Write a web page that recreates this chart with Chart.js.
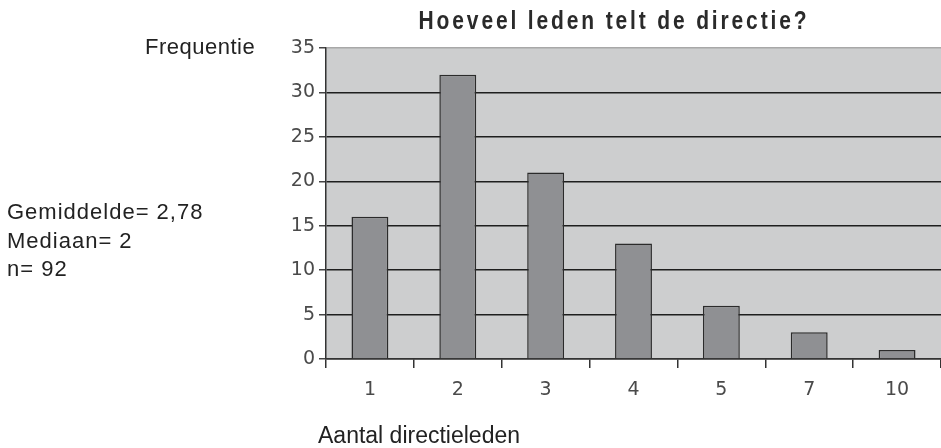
<!DOCTYPE html>
<html>
<head>
<meta charset="utf-8">
<script src="https://cdn.jsdelivr.net/npm/chart.js@4.4.1/dist/chart.umd.min.js"></script>
<style>
  html, body { margin: 0; padding: 0; background: #fff; }
  #wrap { width: 941px; height: 448px; position: relative; }
</style>
</head>
<body>
<div id="wrap"><canvas id="directie" width="941" height="448"></canvas></div>
<script>
const categories = ['1', '2', '3', '4', '5', '7', '10'];
const frequencies = [16, 32, 21, 13, 6, 3, 1];
const statLines = ['Gemiddelde= 2,78', 'Mediaan= 2', 'n= 92'];
const chartTitle = 'Hoeveel leden telt de directie?';
const yTitle = 'Frequentie';
const xTitle = 'Aantal directieleden';

const labelsPlugin = {
    id: 'extraText',
    afterDraw(chart) {
        let ctx = chart.ctx;
        ctx.save();
        ctx.fillStyle = '#222';
        ctx.textBaseline = 'middle';

        // title: condensed bold, spaced out like the original
        ctx.save();
        ctx.translate(614, 22);
        ctx.scale(0.84, 1);
        ctx.fillStyle = '#2a2a2a';
        ctx.font = 'bold 25px "Liberation Sans"';
        ctx.letterSpacing = '3.4px';
        ctx.textAlign = 'center';
        ctx.fillText(chartTitle, 0, 0);
        ctx.restore();

        ctx.font = '22px "Liberation Sans"';
        ctx.textAlign = 'left';
        ctx.letterSpacing = '0.5px';
        ctx.fillText(yTitle, 145, 48);

        ctx.letterSpacing = '1px';
        statLines.forEach((line, i) => {
            ctx.fillText(line, 7, 213 + i * 28.5);
        });

        ctx.letterSpacing = '0px';
        ctx.font = '23px "Liberation Sans"';
        ctx.fillText(xTitle, 318, 437);
        ctx.restore();
    }
};

let ctx = document.getElementById('directie').getContext('2d');
let chart = new Chart(ctx, {
    type: 'bar',
    data: {
        labels: categories,
        datasets: [{
            data: frequencies,
            backgroundColor: '#8f9093',
            borderColor: '#2b2b2b',
            borderWidth: 1.5,
            categoryPercentage: 1,
            barPercentage: 0.42
        }]
    },
    options: {
        responsive: false,
        animation: false,
        layout: { padding: { top: 48, left: 0, right: 0, bottom: 0 } },
        plugins: {
            legend: { display: false },
            tooltip: { enabled: false },
            title: { display: false }
        },
        scales: {
            y: {
                min: 0,
                max: 35,
                ticks: {
                    stepSize: 5,
                    padding: 4,
                    color: '#4a4a4a',
                    font: { family: '"DejaVu Sans"', size: 19 }
                },
                grid: {
                    color: c => c.tick && c.tick.value === 35 ? '#a8a8a8' : '#1e1e1e',
                    lineWidth: 1.5,
                    tickLength: 7,
                    tickColor: '#444',
                    drawTicks: true
                },
                border: { display: true, color: '#333', width: 1.5 },
                afterFit: scale => { scale.width = 326; }
            },
            x: {
                offset: true,
                ticks: {
                    padding: 11,
                    color: '#4a4a4a',
                    font: { family: '"DejaVu Sans"', size: 19 }
                },
                grid: {
                    offset: true,
                    drawOnChartArea: false,
                    drawTicks: true,
                    tickLength: 9,
                    tickColor: '#333',
                    lineWidth: 1.5
                },
                border: { display: true, color: '#333', width: 1.5 },
                afterFit: scale => { scale.height = 89; }
            }
        }
    },
    plugins: [{
        id: 'plotBg',
        beforeDraw(chart) {
            let a = chart.chartArea;
            chart.ctx.save();
            chart.ctx.fillStyle = '#cdcecf';
            chart.ctx.fillRect(a.left, a.top, a.right - a.left, a.bottom - a.top);
            chart.ctx.restore();
        }
    }, labelsPlugin]
});
</script>
</body>
</html>
